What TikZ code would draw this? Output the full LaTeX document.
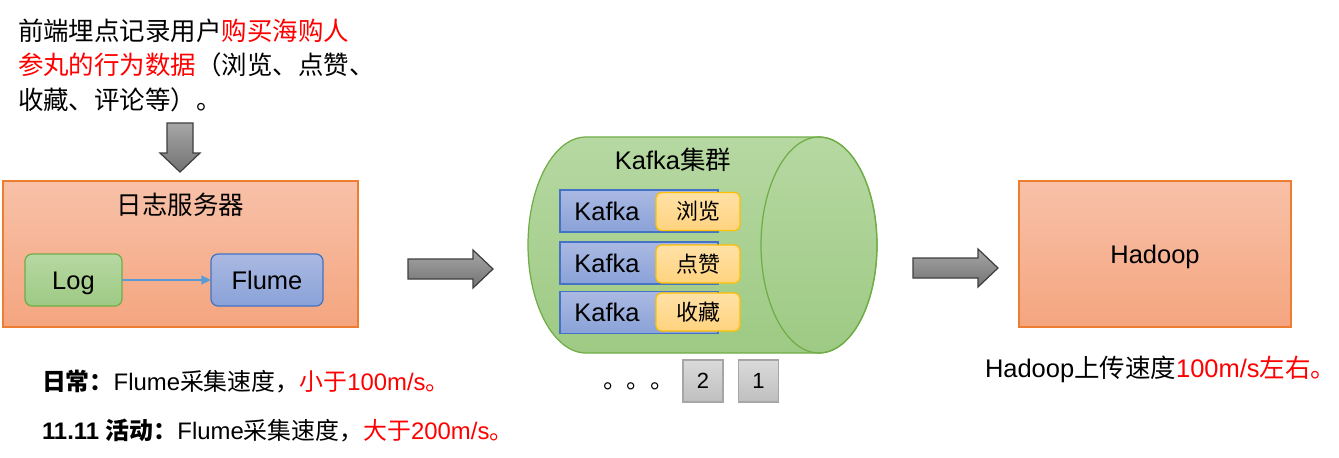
\documentclass[tikz,border=0pt]{standalone}
\usepackage{fontspec}
\setmainfont{Liberation Sans}
\newfontfamily\cjk{Noto Sans CJK SC}
\usetikzlibrary{arrows.meta}
\definecolor{oBorder}{HTML}{ED7D31}
\definecolor{oTop}{HTML}{F8C1A8}
\definecolor{oBot}{HTML}{F4A57F}
\definecolor{gBorder}{HTML}{70AD47}
\definecolor{gTop}{HTML}{B6D8A2}
\definecolor{gBot}{HTML}{9ECA84}
\definecolor{bBorder}{HTML}{4472C4}
\definecolor{bTop}{HTML}{AAB9E2}
\definecolor{bBot}{HTML}{8AA2D8}
\definecolor{yBorder}{HTML}{FFC000}
\definecolor{yTop}{HTML}{FFE1A6}
\definecolor{yBot}{HTML}{FFD37F}
\definecolor{grBorder}{HTML}{A6A6A6}
\definecolor{grTop}{HTML}{DADADA}
\definecolor{grBot}{HTML}{BFBFBF}
\definecolor{arBorder}{HTML}{3F3F3F}
\definecolor{arTop}{HTML}{A6A6A6}
\definecolor{arBot}{HTML}{737373}
\definecolor{flow}{HTML}{5B9BD5}
\definecolor{hot}{HTML}{FF0000}
\newcommand\fsA{\fontsize{14.5}{17}\selectfont}
\newcommand\fsB{\fontsize{13.6}{16}\selectfont}
\newcommand\fsC{\fontsize{12.5}{15}\selectfont}
\tikzset{
  every node/.style={inner sep=0pt, outer sep=0pt},
  lowtext/.style={text height=12pt, text depth=1pt},
  bigbox/.style={draw=oBorder, line width=0.7pt, top color=oTop, bottom color=oBot,
    minimum width=#1, minimum height=2.92cm},
  logbox/.style={draw=gBorder, line width=0.7pt, top color=gTop, bottom color=gBot,
    rounded corners=4pt, minimum width=1.94cm, minimum height=1.04cm, font=\fsA, lowtext},
  flumebox/.style={draw=bBorder, line width=0.7pt, top color=bTop, bottom color=bBot,
    rounded corners=4pt, minimum width=2.24cm, minimum height=1.04cm, font=\fsA, lowtext},
  kafkarow/.style={draw=bBorder, line width=0.7pt, top color=bTop, bottom color=bBot,
    minimum width=3.16cm, minimum height=0.84cm},
  tagbox/.style={draw=yBorder, line width=0.7pt, top color=yTop, bottom color=yBot,
    rounded corners=3pt, minimum width=1.68cm, minimum height=0.76cm, font=\cjk\fsC},
  numbox/.style={draw=grBorder, line width=0.7pt, top color=grTop, bottom color=grBot,
    minimum width=0.8cm, minimum height=0.84cm, font=\fsC},
  blockarrow/.style={draw=arBorder, line width=0.7pt, top color=arTop, bottom color=arBot},
  flowline/.style={draw=flow, line width=0.9pt, -{Triangle[length=5.5pt,width=5pt]}},
  cylbody/.style={draw=gBorder, line width=0.7pt, top color=gTop, bottom color=gBot},
}
\begin{document}
\begin{tikzpicture}[x=0.02cm,y=-0.02cm]
\useasboundingbox (0,0) rectangle (1339,457);

% top description text
\node[anchor=base west, font=\cjk\fsA] (desc1) at (18,40)
  {前端埋点记录用户\textcolor{hot}{购买海购人}};
\node[anchor=base west, font=\cjk\fsA] (desc2) at (18,74)
  {\textcolor{hot}{参丸的行为数据}（浏览、点赞、};
\node[anchor=base west, font=\cjk\fsA] (desc3) at (18,109)
  {收藏、评论等）。};

% down block arrow
\path[blockarrow] (167,123) -- (193,123) -- (193,153) -- (200,153) -- (180,172)
  -- (160,153) -- (167,153) -- cycle;

% log server
\node[bigbox=7.1cm] (server) at (180.5,254) {};
\node[font=\cjk\fsA] (servertitle) at (180.5,205) {日志服务器};
\node[logbox] (log) at (73.5,280) {Log};
\node[flumebox] (flume) at (267,280) {Flume};
\draw[flowline] (log) -- (flume);

% right block arrows
\path[blockarrow] (408,259) -- (473,259) -- (473,250) -- (493,269) -- (473,288)
  -- (473,279) -- (408,279) -- cycle;
\path[blockarrow] (913,258) -- (978,258) -- (978,249) -- (998,268) -- (978,287)
  -- (978,278) -- (913,278) -- cycle;

% kafka cylinder
\path[cylbody] (586,137) -- (819,137) arc[start angle=270, end angle=450, x radius=58, y radius=108]
  -- (586,353) arc[start angle=90, end angle=270, x radius=58, y radius=108] -- cycle;
\draw[draw=gBorder, line width=0.7pt] (819,245) ellipse[x radius=58, y radius=108];
\node[font=\fsA] (kafkatitle) at (673,160) {Kafka{\cjk 集群}};

\node[kafkarow] (row1) at (639,211) {};
\node[font=\fsA] (k1) at (607,211) {Kafka};
\node[tagbox] (t1) at (698,211.5) {浏览};
\node[kafkarow] (row2) at (639,263) {};
\node[font=\fsA] (k2) at (607,263) {Kafka};
\node[tagbox] (t2) at (698,264) {点赞};
\node[kafkarow] (row3) at (639,312.5) {};
\node[font=\fsA] (k3) at (607,312.5) {Kafka};
\node[tagbox] (t3) at (698,312) {收藏};

% partitions
\node[anchor=base west, font=\cjk\fsB] (dots) at (603,388) {。。。};
\node[numbox] (p2) at (703,381) {2};
\node[numbox] (p1) at (758.5,381) {1};

% hadoop
\node[bigbox=5.44cm, font=\fsA, lowtext] (hadoop) at (1155,254) {Hadoop};
\node[anchor=base west, font=\fsA] (hadoopnote) at (985,377)
  {Hadoop{\cjk 上传速度}\textcolor{hot}{100m/s{\cjk 左右。}}};

% bottom notes
\node[anchor=base west, font=\fsB] (note1) at (42,390)
  {{\cjk\bfseries 日常：}Flume{\cjk 采集速度，}\textcolor{hot}{{\cjk 小于}100m/s{\cjk 。}}};
\node[anchor=base west, font=\fsB] (note2) at (42,439)
  {\textbf{11.11 }{\cjk\bfseries 活动：}Flume{\cjk 采集速度，}\textcolor{hot}{{\cjk 大于}200m/s{\cjk 。}}};
\end{tikzpicture}
\end{document}
